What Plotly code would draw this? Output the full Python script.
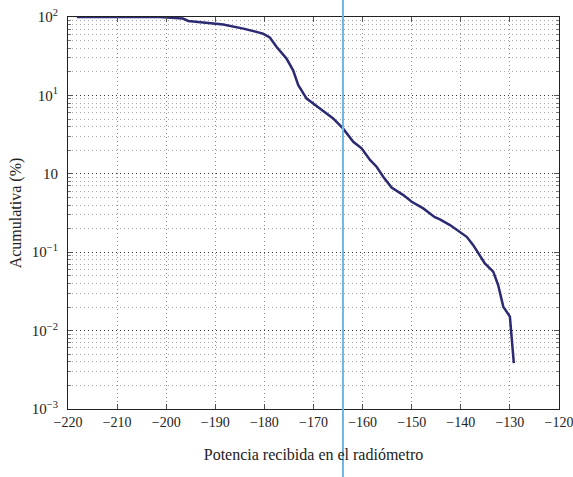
import plotly.graph_objects as go

# Received power (dB) vs cumulative percentage
potencia = [-218.2, -201.3, -196.6, -195.5, -190.45, -188.4, -184.3, -180.3, -178.9,
            -177.5, -175.5, -174.15, -173.1, -171.4, -168.7, -166.0, -164.0, -161.9,
            -160.2, -158.5, -157.15, -155.8, -154.1, -151.7, -150.0, -147.65, -145.3,
            -144.25, -142.2, -140.2, -138.8, -137.5, -136.1, -135.1, -133.4, -132.4,
            -131.35, -130.0, -129.6, -129.2]
acumulativa = [100, 100, 95.4, 89, 82.4, 80, 71.1, 61.5, 54.7,
               41.5, 29.5, 20.9, 13.5, 9.12, 6.8, 5.08, 3.79, 2.56,
               2.11, 1.50, 1.23, 0.916, 0.667, 0.535, 0.440, 0.362, 0.279,
               0.262, 0.222, 0.182, 0.157, 0.124, 0.092, 0.072, 0.0565, 0.0382,
               0.0202, 0.0151, 0.0076, 0.00385]

umbral = -164.0  # sensitivity marker

x_ticks = list(range(-220, -119, 10))
y_tickvals = [1e-3, 1e-2, 1e-1, 1, 10, 100]
y_ticktext = ["10<sup>−3</sup>", "10<sup>−2</sup>", "10<sup>−1</sup>", "10",
              "10<sup>1</sup>", "10<sup>2</sup>"]

font_family = "Liberation Serif"
dots = "1px,3px"

fig = go.Figure()
fig.add_trace(go.Scatter(
    x=potencia, y=acumulativa, mode="lines",
    line=dict(color="#2B2A72", width=2.5),
    showlegend=False,
))

fig.add_shape(
    type="line", xref="x", yref="paper",
    x0=umbral, x1=umbral, y0=-0.3, y1=1.1,
    line=dict(color="#6CB6E4", width=2),
)

fig.update_layout(
    width=573, height=477,
    margin=dict(l=68, r=14, t=17, b=68),
    paper_bgcolor="white", plot_bgcolor="white",
    font=dict(family=font_family, size=14, color="#222"),
)

fig.update_xaxes(
    range=[-220, -120], tickvals=x_ticks, automargin=False,
    showline=True, linecolor="#222", linewidth=1, mirror="ticks",
    ticks="inside", ticklen=5, tickcolor="#555",
    showgrid=True, gridcolor="#8a8a8a", griddash=dots, gridwidth=1,
    zeroline=False, ticklabeloverflow="allow",
    title=dict(text="Potencia recibida en el radiómetro", standoff=20,
               font=dict(size=16)),
    tickfont=dict(size=14),
)

fig.update_yaxes(
    type="log", range=[-3, 2], automargin=False,
    tickvals=y_tickvals, ticktext=y_ticktext,
    showline=True, linecolor="#222", linewidth=1, mirror="ticks",
    ticks="inside", ticklen=5, tickcolor="#555",
    showgrid=True, gridcolor="#333", griddash=dots, gridwidth=1,
    minor=dict(dtick="D1", showgrid=True, gridcolor="#a8a8a8", griddash=dots,
               ticks="inside", ticklen=3, tickcolor="#777"),
    zeroline=False, ticklabeloverflow="allow", ticklabelstandoff=6,
    title=dict(text="Acumulativa (%)", standoff=6, font=dict(size=16)),
    tickfont=dict(size=15),
)

fig.write_html("out.html")
